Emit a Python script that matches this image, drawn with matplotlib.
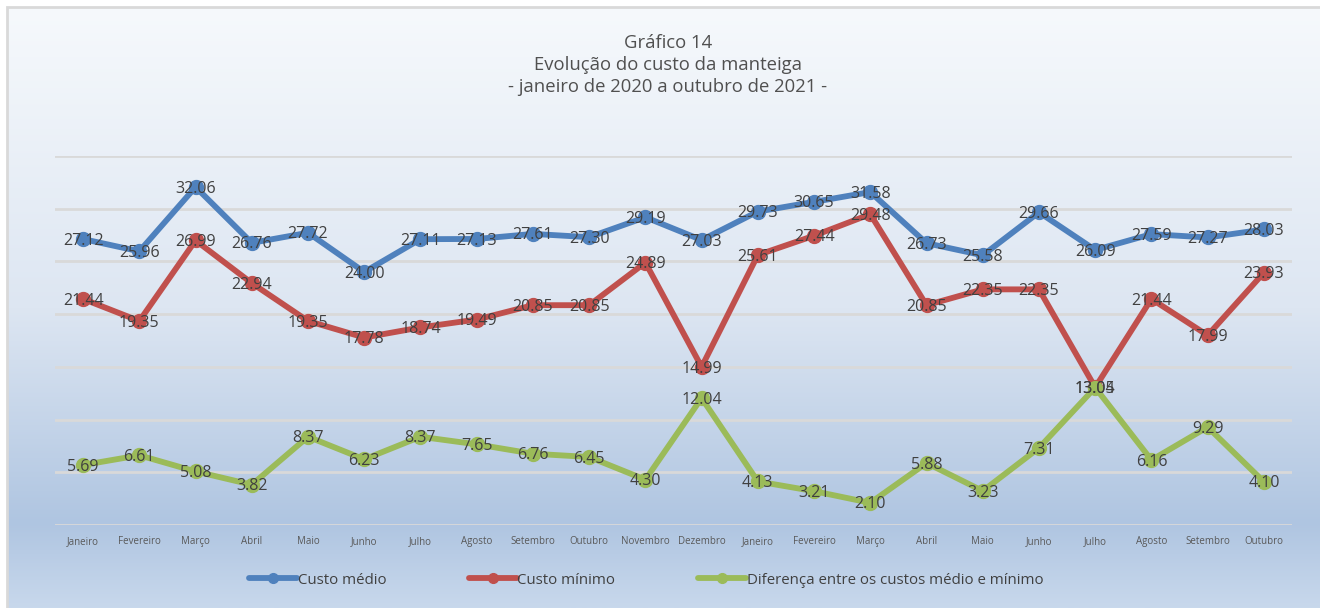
import numpy as np
import matplotlib.pyplot as plt
from matplotlib.colors import LinearSegmentedColormap
from matplotlib.patches import Rectangle

plt.rcParams['font.family'] = ['Open Sans', 'DejaVu Sans']

# Dados
meses = ['Janeiro', 'Fevereiro', 'Março', 'Abril', 'Maio', 'Junho', 'Julho',
         'Agosto', 'Setembro', 'Outubro', 'Novembro', 'Dezembro',
         'Janeiro', 'Fevereiro', 'Março', 'Abril', 'Maio', 'Junho', 'Julho',
         'Agosto', 'Setembro', 'Outubro']
custo_medio = [27.12, 25.96, 32.06, 26.76, 27.72, 24.00, 27.11, 27.13, 27.61, 27.30,
               29.19, 27.03, 29.73, 30.65, 31.58, 26.73, 25.58, 29.66, 26.09, 27.59,
               27.27, 28.03]
custo_minimo = [21.44, 19.35, 26.99, 22.94, 19.35, 17.78, 18.74, 19.49, 20.85, 20.85,
                24.89, 14.99, 25.61, 27.44, 29.48, 20.85, 22.35, 22.35, 13.05, 21.44,
                17.99, 23.93]
diferenca = [5.69, 6.61, 5.08, 3.82, 8.37, 6.23, 8.37, 7.65, 6.76, 6.45,
             4.30, 12.04, 4.13, 3.21, 2.10, 5.88, 3.23, 7.31, 13.04, 6.16,
             9.29, 4.10]

series = [
    ('Custo médio', custo_medio, '#4f81bd'),
    ('Custo mínimo', custo_minimo, '#c0504d'),
    ('Diferença entre os custos médio e mínimo', diferenca, '#9bbb59'),
]

W, H = 1320, 608
fig = plt.figure(figsize=(W / 100, H / 100), dpi=100)
fig.patch.set_facecolor('white')

# fundo em degradê
bg = fig.add_axes([8 / W, 0, 1 - 8 / W, 1 - 8 / H], zorder=-10)
cmap = LinearSegmentedColormap.from_list(
    'bg', [(0, '#f6f9fc'), (0.5, '#dde6f2'), (0.86, '#afc5e1'), (1, '#c8d8ec')])
grad = np.linspace(0, 1, 256).reshape(-1, 1)
bg.imshow(grad, aspect='auto', cmap=cmap, extent=[0, 1, 1, 0])
bg.set_axis_off()
fig.patches.append(Rectangle((7 / W, -0.01), 1.02, 1 - 7 / H + 0.01,
                             transform=fig.transFigure, fill=False,
                             edgecolor='#d9d9d9', linewidth=2, zorder=-5))

ax = fig.add_axes([55 / W, 1 - 525 / H, (1292 - 55) / W, (525 - 156) / H])
ax.patch.set_alpha(0)
x = np.arange(len(meses))
for nome, vals, cor in series:
    ax.plot(x, vals, color=cor, lw=4.2, marker='o', ms=10, label=nome,
            solid_capstyle='round', solid_joinstyle='round', zorder=3)
    for xi, v in zip(x, vals):
        ax.text(xi, v - 0.15, f'{v:.2f}', ha='center', va='center', fontsize=11.5,
                color='#404040', zorder=4)

ax.set_xlim(-0.5, len(meses) - 0.5)
ax.set_ylim(0, 35)
ax.set_yticks(np.arange(0, 36, 5))
ax.yaxis.grid(True, color='#d9d9d9', lw=2)
ax.set_axisbelow(True)
ax.tick_params(axis='y', left=False, labelleft=False)
ax.set_xticks(x)
ax.set_xticklabels(meses, fontsize=7, color='#595959')
ax.tick_params(axis='x', length=0, pad=8)
for s in ax.spines.values():
    s.set_visible(False)

fig.text(668 / W, 1 - 65 / H,
         'Gráfico 14\nEvolução do custo da manteiga\n- janeiro de 2020 a outubro de 2021 -',
         ha='center', va='center', fontsize=13.3, color='#505050', linespacing=1.3)

fig.legend(loc='center', bbox_to_anchor=(646 / W, 1 - 580 / H), ncol=3,
           frameon=False, fontsize=10.8, labelcolor='#404040', handlelength=3.2,
           handletextpad=0.05, columnspacing=5.5, markerscale=0.7)

fig.savefig('out.png', dpi=100)
